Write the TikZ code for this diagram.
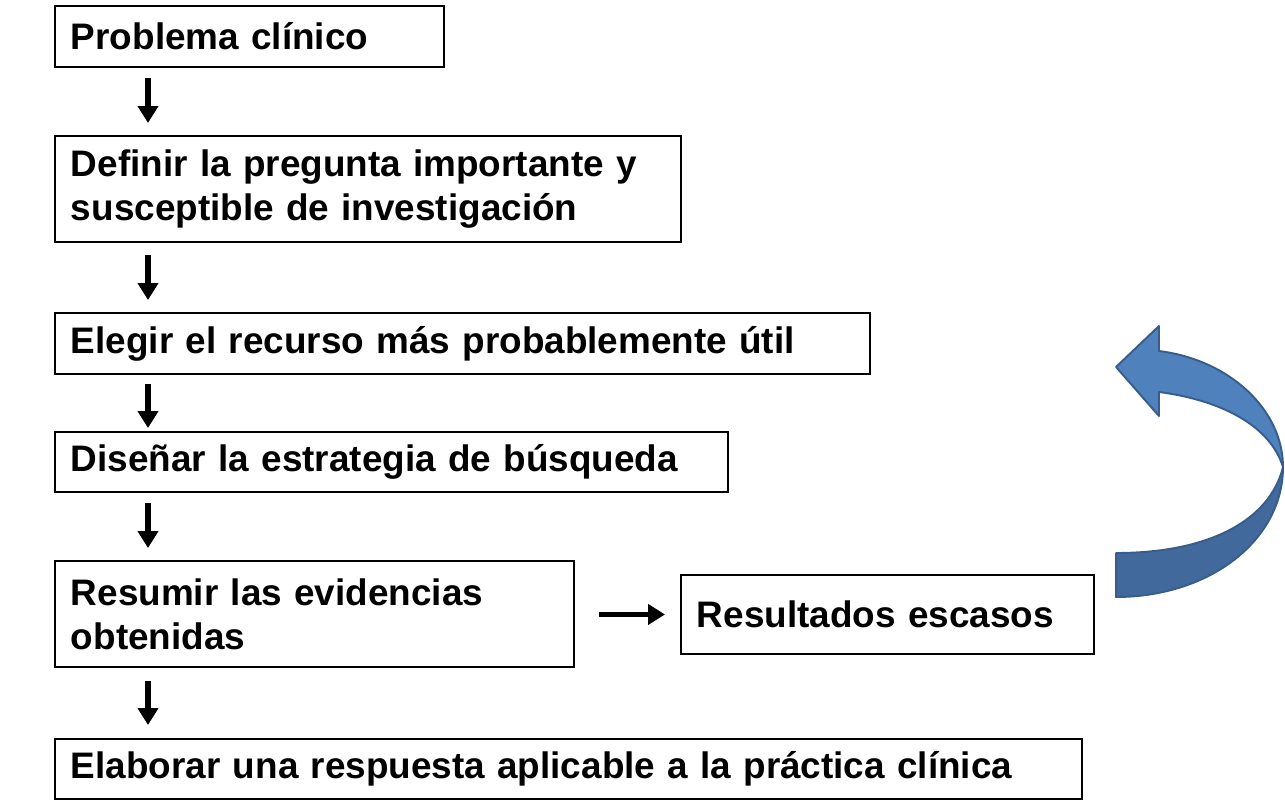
\documentclass[tikz,border=0pt]{standalone}
\usepackage{fontspec}
\setmainfont{Liberation Sans}
\usetikzlibrary{arrows.meta,positioning}

\definecolor{ribbonlight}{HTML}{4F81BD}
\definecolor{ribbondark}{HTML}{41699B}
\definecolor{ribbonline}{HTML}{385D8A}

\tikzset{
    paso/.style={draw, line width=1.1pt, anchor=north west, inner xsep=0.32cm,
        align=left, font=\fontsize{21}{25}\selectfont\bfseries},
    flecha/.style={line width=3.2pt, -{Triangle[length=0.34cm,width=0.4cm]}},
}

\begin{document}
\begin{tikzpicture}[x=0.02cm,y=-0.02cm]
    \useasboundingbox (0,0) rectangle (1285,800);
    \node[paso,text width=7.14cm,minimum height=1.22cm] (problema) at (54,5) {Problema clínico};
    \node[paso,text width=11.88cm,minimum height=2.12cm] (pregunta) at (54,135) {Definir la pregunta importante y\\susceptible de investigación};
    \node[paso,text width=15.66cm,minimum height=1.22cm] (recurso) at (54,312) {Elegir el recurso más probablemente útil};
    \node[paso,text width=12.82cm,minimum height=1.2cm] (estrategia) at (54,431) {Diseñar la estrategia de búsqueda};
    \node[paso,text width=9.74cm,minimum height=2.12cm] (resumen) at (54,560) {Resumir las evidencias\\obtenidas};
    \node[paso,text width=7.62cm,minimum height=1.58cm] (escasos) at (680,574) {Resultados escasos};
    \node[paso,text width=19.9cm,minimum height=1.2cm] (respuesta) at (54,738) {Elaborar una respuesta aplicable a la práctica clínica};
    \coordinate (eje) at (148,0);
    \draw[flecha,shorten <=0.2cm,shorten >=0.24cm] (problema.south -| eje) -- (pregunta.north -| eje);
    \draw[flecha,shorten <=0.24cm,shorten >=0.24cm] (pregunta.south -| eje) -- (recurso.north -| eje);
    \draw[flecha,shorten <=0.18cm,shorten >=0.06cm] (recurso.south -| eje) -- (estrategia.north -| eje);
    \draw[flecha,shorten <=0.2cm,shorten >=0.24cm] (estrategia.south -| eje) -- (resumen.north -| eje);
    \draw[flecha,shorten <=0.26cm,shorten >=0.26cm] (resumen.south -| eje) -- (respuesta.north -| eje);
    \draw[flecha,shorten <=0.48cm,shorten >=0.3cm] (resumen.east |- escasos) -- (escasos.west);
    % flecha curva de vuelta
    \draw[fill=ribbondark, draw=ribbonline, line width=1.1pt, line join=round]
        (1283,467) .. controls (1283,540) and (1210,597) .. (1116,597)
        -- (1116,553) .. controls (1210,553) and (1270,520) .. (1283,467) -- cycle;
    \draw[fill=ribbonlight, draw=ribbonline, line width=1.1pt, line join=round]
        (1159,351) .. controls (1230,360) and (1283,410) .. (1283,467)
        .. controls (1270,425) and (1220,400) .. (1159,392)
        -- (1159,416) -- (1116,367) -- (1159,326) -- cycle;
\end{tikzpicture}
\end{document}
